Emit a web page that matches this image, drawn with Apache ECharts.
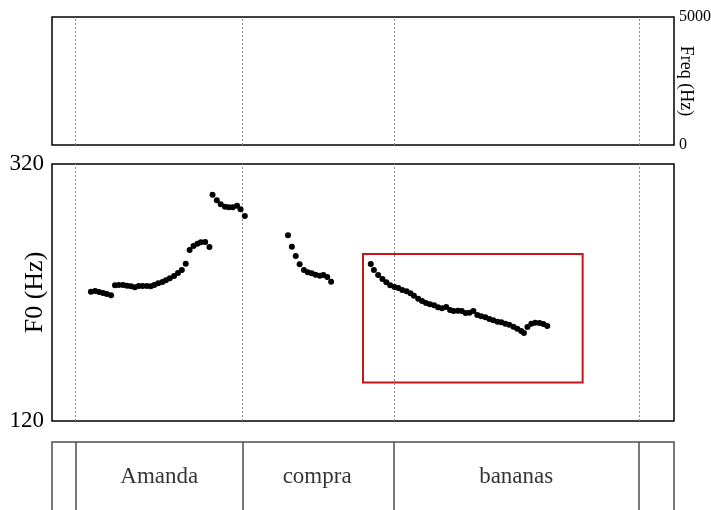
<!DOCTYPE html>
<html>
<head>
<meta charset="utf-8">
<script src="https://cdn.jsdelivr.net/npm/echarts@6/dist/echarts.min.js"></script>
<style>
  html, body { margin: 0; padding: 0; background: #fff; }
  #chart { width: 711px; height: 510px; }
</style>
</head>
<body>
<div id="chart"></div>
<script>
// Utterance length (s) and word interval boundaries (s)
const duration = 1.6;
const boundaries = [0.063, 0.489, 0.875, 1.513];
const words = ['Amanda', 'compra', 'bananas'];

// F0 contours: times (s) and pitch (Hz)
const contour1Times = [0.100, 0.111, 0.121, 0.131, 0.141, 0.152,
  0.162, 0.172, 0.183, 0.193, 0.203, 0.213, 0.223, 0.233, 0.244, 0.254,
  0.263, 0.273, 0.284, 0.293, 0.303, 0.314, 0.324, 0.334, 0.344,
  0.354, 0.364, 0.374, 0.383, 0.394, 0.405];
const contour1Hz = [220.6, 221.2, 220.4, 219.6, 218.8, 217.8,
  225.6, 225.8, 225.8, 225.3, 224.8, 224.0, 225.1, 225.1, 225.1, 224.8,
  225.8, 227.2, 228.2, 229.5, 231.1, 232.8, 235.2, 237.5, 242.4,
  253.1, 256.2, 258.0, 259.1, 259.3, 255.4];

const contour2Times = [0.413, 0.424, 0.434, 0.445, 0.455, 0.465, 0.476, 0.485, 0.496];
const contour2Hz = [296.1, 291.8, 288.6, 286.8, 286.3, 286.3, 287.5, 284.7, 279.5];

const contour3Times = [0.607, 0.617, 0.627, 0.637, 0.648, 0.658, 0.668, 0.678, 0.689, 0.698, 0.708, 0.718];
const contour3Hz = [264.5, 255.6, 248.4, 241.9, 237.5, 235.7, 234.9, 233.9, 233.1, 233.6, 232.1, 228.4];

const contour4Times = [0.820, 0.828, 0.839, 0.850, 0.860, 0.870, 0.881, 0.891, 0.901, 0.912,
  0.922, 0.931, 0.942, 0.952, 0.962, 0.972, 0.983, 0.993, 1.003, 1.014,
  1.024, 1.033, 1.044, 1.054, 1.064, 1.074, 1.084, 1.094, 1.104, 1.115,
  1.125, 1.135, 1.146, 1.156, 1.166, 1.176, 1.187, 1.197, 1.207, 1.214,
  1.223, 1.233, 1.243, 1.254, 1.264, 1.274];
const contour4Hz = [242.2, 237.5, 233.6, 230.5, 227.9, 225.6, 224.3, 223.5, 221.9, 220.9,
  219.4, 217.5, 215.2, 213.4, 211.8, 210.8, 210.0, 208.5, 207.7, 208.7,
  206.4, 205.6, 205.8, 205.6, 204.0, 204.3, 205.6, 202.5, 201.5, 200.7,
  199.4, 198.4, 197.3, 196.8, 195.7, 194.9, 193.4, 191.8, 190.0, 188.5,
  193.2, 195.7, 196.5, 196.3, 195.5, 193.9];

// Axis ranges and tick labels
const freqRange = [0, 5000];
const f0Range = [120, 320];

// Highlighted region: time span (s) and pitch span (Hz)
const highlightTimes = [0.80, 1.365];
const highlightHz = [150, 250];

const SERIF = '"Liberation Serif", "Times New Roman", serif';

function pairs(ts, vs) { return ts.map((t, i) => [t, vs[i]]); }
const f0Points = [].concat(
  pairs(contour1Times, contour1Hz),
  pairs(contour2Times, contour2Hz),
  pairs(contour3Times, contour3Hz),
  pairs(contour4Times, contour4Hz)
);

const dottedBoundaries = {
  silent: true,
  symbol: ['none', 'none'],
  label: { show: false },
  lineStyle: { type: [2, 2], color: '#8a8a8a', width: 1 },
  emphasis: { disabled: true },
  data: boundaries.map(b => ({ xAxis: b }))
};

const wordLabels = words.map((w, i) => ({
  value: [(boundaries[i] + boundaries[i + 1]) / 2, 0.65],
  name: w
}));

const gridBase = { left: 52, width: 622, show: true, borderWidth: 1.5, backgroundColor: 'transparent', outerBoundsMode: 'none', containLabel: false };

const chart = echarts.init(document.getElementById('chart'), null, { renderer: 'canvas' });
chart.setOption({
  animation: false,
  backgroundColor: '#fff',
  grid: [
    Object.assign({}, gridBase, { top: 17, height: 128, borderColor: '#000' }),
    Object.assign({}, gridBase, { top: 164, height: 257, borderColor: '#000' }),
    Object.assign({}, gridBase, { top: 442, height: 100, borderColor: '#4d4d4d' })
  ],
  xAxis: [0, 1, 2].map(g => ({
    gridIndex: g, type: 'value', min: 0, max: duration, show: false
  })),
  yAxis: [
    {
      gridIndex: 0, type: 'value', position: 'right',
      min: freqRange[0], max: freqRange[1], interval: freqRange[1] - freqRange[0],
      axisLine: { show: false }, axisTick: { show: false }, splitLine: { show: false },
      axisLabel: { color: '#000', fontFamily: SERIF, fontSize: 16, margin: 5, formatter: v => String(v) },
      name: 'Freq (Hz)', nameLocation: 'middle', nameRotate: -90, nameGap: 3,
      nameMoveOverlap: false,
      nameTextStyle: { color: '#000', fontFamily: SERIF, fontSize: 18 }
    },
    {
      gridIndex: 1, type: 'value', position: 'left',
      min: f0Range[0], max: f0Range[1], interval: 20,
      axisLine: { show: false }, axisTick: { show: false }, splitLine: { show: false },
      axisLabel: {
        color: '#000', fontFamily: SERIF, fontSize: 23, margin: 8,
        formatter: v => (f0Range.includes(v) ? String(v) : '')
      },
      name: 'F0 (Hz)', nameLocation: 'middle', nameRotate: 90, nameGap: 4,
      nameMoveOverlap: false,
      nameTextStyle: { color: '#000', fontFamily: SERIF, fontSize: 26 }
    },
    { gridIndex: 2, type: 'value', min: 0, max: 1, show: false }
  ],
  series: [
    {
      type: 'scatter', xAxisIndex: 0, yAxisIndex: 0, data: [], silent: true,
      markLine: dottedBoundaries
    },
    {
      type: 'scatter', xAxisIndex: 1, yAxisIndex: 1, data: [], silent: true, z: 1,
      markLine: dottedBoundaries
    },
    {
      type: 'scatter', xAxisIndex: 1, yAxisIndex: 1, z: 5,
      symbol: 'circle', symbolSize: 6,
      itemStyle: { color: '#000', opacity: 1 },
      data: f0Points,
      markArea: {
        silent: true,
        itemStyle: { color: 'rgba(0,0,0,0)', borderColor: '#c8141b', borderWidth: 2 },
        data: [[
          { coord: [highlightTimes[0], highlightHz[1]] },
          { coord: [highlightTimes[1], highlightHz[0]] }
        ]]
      }
    },
    {
      type: 'scatter', xAxisIndex: 2, yAxisIndex: 2, silent: true,
      symbolSize: 0,
      data: wordLabels,
      label: {
        show: true, position: 'inside', formatter: p => p.name,
        color: '#000', fontFamily: SERIF, fontSize: 23
      },
      markLine: {
        silent: true,
        symbol: ['none', 'none'],
        label: { show: false },
        lineStyle: { type: 'solid', color: '#4d4d4d', width: 1.5 },
        data: boundaries.map(b => ({ xAxis: b }))
      }
    }
  ]
});
</script>
</body>
</html>
